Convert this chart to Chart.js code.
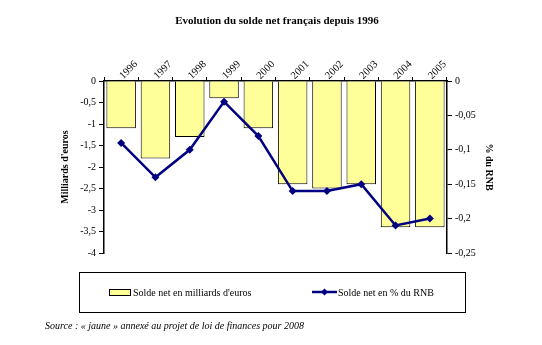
<!DOCTYPE html>
<html>
<head>
<meta charset="utf-8">
<script src="https://cdn.jsdelivr.net/npm/chart.js@4/dist/chart.umd.min.js"></script>
<style>
  html, body { margin: 0; padding: 0; background: #fff; }
  #wrap { width: 542px; height: 345px; position: relative; }
</style>
</head>
<body>
<div id="wrap"><canvas id="chart"></canvas></div>
<script>
// Data
const years = ['1996', '1997', '1998', '1999', '2000', '2001', '2002', '2003', '2004', '2005'];
const soldeMilliards = [-1.1, -1.8, -1.3, -0.4, -1.1, -2.4, -2.5, -2.4, -3.4, -3.4];
const soldePctRnb = [-0.09, -0.14, -0.10, -0.03, -0.08, -0.16, -0.16, -0.15, -0.21, -0.20];

const serif = 'Liberation Serif';
const barFill = '#FFFF99';
const lineColor = '#000080';

function frNum(v) {
    return String(Number(v.toFixed(2))).replace('.', ',');
}

// Boxed legend + source note under the plot
const legendBox = {
    id: 'legendBox',
    afterDraw(chart) {
        const ctx = chart.ctx;
        const barDs = chart.data.datasets.find(d => d.type === 'bar');
        const lineDs = chart.data.datasets.find(d => d.type === 'line');
        ctx.save();
        ctx.strokeStyle = '#000';
        ctx.lineWidth = 1;
        ctx.strokeRect(79.5, 272.5, 386, 40);

        ctx.font = '10px "' + serif + '"';
        ctx.textBaseline = 'middle';

        // bar item
        ctx.fillStyle = barFill;
        ctx.fillRect(109, 289, 21, 6);
        ctx.strokeStyle = '#000';
        ctx.strokeRect(109.5, 289.5, 21, 6);
        ctx.fillStyle = '#000';
        ctx.fillText(barDs.label, 133, 293);

        // line item
        ctx.strokeStyle = lineColor;
        ctx.lineWidth = 2.5;
        ctx.beginPath();
        ctx.moveTo(312, 292);
        ctx.lineTo(337, 292);
        ctx.stroke();
        ctx.fillStyle = lineColor;
        ctx.beginPath();
        ctx.moveTo(324.5, 288.5);
        ctx.lineTo(328, 292);
        ctx.lineTo(324.5, 295.5);
        ctx.lineTo(321, 292);
        ctx.closePath();
        ctx.fill();
        ctx.fillStyle = '#000';
        ctx.fillText(lineDs.label, 338, 293);

        ctx.font = 'italic 10px "' + serif + '"';
        ctx.fillText('Source : \u00ab jaune \u00bb annex\u00e9 au projet de loi de finances pour 2008', 45, 326);
        ctx.restore();
    }
};

const ctx = document.getElementById('chart').getContext('2d');
new Chart(ctx, {
    data: {
        labels: years,
        datasets: [{
            type: 'line',
            label: 'Solde net en % du RNB',
            data: soldePctRnb,
            yAxisID: 'y2',
            borderColor: lineColor,
            backgroundColor: lineColor,
            borderWidth: 2.5,
            pointStyle: 'rectRot',
            pointRadius: 4,
            pointBorderWidth: 0,
            tension: 0,
            order: 0
        }, {
            type: 'bar',
            label: 'Solde net en milliards d\'euros',
            data: soldeMilliards,
            yAxisID: 'y',
            backgroundColor: barFill,
            borderColor: '#000',
            borderWidth: 1,
            borderSkipped: 'start',
            categoryPercentage: 1,
            barPercentage: 0.86,
            order: 1
        }]
    },
    options: {
        responsive: true,
        maintainAspectRatio: false,
        animation: false,
        layout: {
            padding: { left: 55, right: 43, top: 0, bottom: 92 }
        },
        plugins: {
            legend: { display: false },
            tooltip: { enabled: false },
            title: {
                display: true,
                text: 'Evolution du solde net français depuis 1996',
                color: '#000',
                font: { family: serif, size: 11, weight: 'bold' },
                padding: { top: 15, bottom: 0 }
            }
        },
        scales: {
            x: {
                position: 'top',
                offset: true,
                grid: {
                    offset: true,
                    drawOnChartArea: false,
                    color: '#000',
                    tickLength: 4
                },
                border: { color: '#000', width: 1.5 },
                ticks: {
                    color: '#000',
                    minRotation: 45,
                    maxRotation: 45,
                    padding: -5,
                    labelOffset: 9,
                    font: { family: serif, size: 10.5 }
                },
                afterFit(scale) { scale.height = 52.8; }
            },
            y: {
                position: 'left',
                min: -4,
                max: 0,
                grid: { drawOnChartArea: false, color: '#000', tickLength: 5 },
                border: { color: '#000', width: 1.5 },
                ticks: {
                    stepSize: 0.5,
                    color: '#000',
                    padding: 3,
                    font: { family: serif, size: 10 },
                    callback: v => frNum(v)
                },
                title: {
                    display: true,
                    text: 'Milliards d\'euros',
                    color: '#000',
                    font: { family: serif, size: 10, weight: 'bold' },
                    padding: { top: 4, bottom: 4 }
                },
                afterFit(scale) { scale.width = 49; }
            },
            y2: {
                position: 'right',
                min: -0.25,
                max: 0,
                grid: { drawOnChartArea: false, color: '#000', tickLength: 5 },
                border: { color: '#000', width: 1.5 },
                ticks: {
                    stepSize: 0.05,
                    color: '#000',
                    padding: 3,
                    font: { family: serif, size: 10 },
                    callback: v => frNum(v)
                },
                title: {
                    display: true,
                    text: '% du RNB',
                    color: '#000',
                    font: { family: serif, size: 10, weight: 'bold' },
                    padding: { top: 4, bottom: 4 }
                },
                afterFit(scale) { scale.width = 52; }
            }
        }
    },
    plugins: [legendBox]
});
</script>
</body>
</html>
